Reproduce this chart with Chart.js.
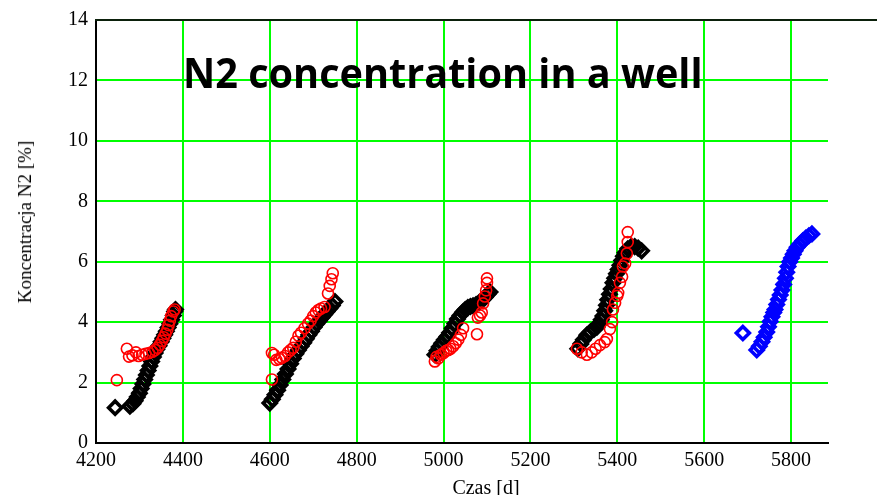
<!DOCTYPE html>
<html>
<head>
<meta charset="utf-8">
<script src="https://cdn.jsdelivr.net/npm/chart.js@4/dist/chart.umd.min.js"></script>
<style>
  body { margin: 0; background: #fff; }
  #wrap { position: relative; width: 877px; height: 495px; }
  #title {
    position: absolute; left: 183px; top: 51px;
    font-family: "Open Sans", sans-serif; font-weight: 700; font-size: 42px;
    line-height: 1; white-space: nowrap; color: #000; transform-origin: 0 0;
  }
  #ylab {
    position: absolute; left: 25px; top: 222px;
    font-family: "Liberation Serif", serif; font-size: 19px;
    white-space: nowrap; transform: translate(-50%, -50%) rotate(-90deg);
  }
  #xlab {
    position: absolute; left: 486px; top: 487px;
    font-family: "Liberation Serif", serif; font-size: 20px; white-space: nowrap;
    transform: translate(-50%, -50%);
  }
</style>
</head>
<body>
<div id="wrap">
  <canvas id="chartCanvas" width="877" height="495"></canvas>
  <div id="title">N2 concentration in a well</div>
  <div id="ylab">Koncentracja N2 [%]</div>
  <div id="xlab">Czas [d]</div>
</div>
<script>
// tick labels
const xTicks = [4200, 4400, 4600, 4800, 5000, 5200, 5400, 5600, 5800];
const yTicks = [0, 2, 4, 6, 8, 10, 12, 14];

// model (black diamonds) - four periods
const modelDays = [
    4244, 4278, 4285, 4290, 4295, 4300, 4304, 4308, 4312, 4316, 4320, 4324, 4328, 4332, 4336,
    4340, 4345, 4350, 4354, 4358, 4362, 4366, 4370, 4374, 4378, 4381, 4383,
    4600, 4606, 4612, 4618, 4624, 4630, 4636, 4642, 4648, 4654, 4660, 4666, 4672, 4678, 4684,
    4690, 4696, 4702, 4708, 4714, 4720, 4726, 4732, 4738, 4744, 4750,
    4980, 4985, 4990, 4996, 5002, 5008, 5014, 5020, 5026, 5032, 5038, 5044, 5050, 5056, 5062,
    5068, 5075, 5082, 5090, 5096, 5102, 5107,
    5309, 5316, 5322, 5330, 5338, 5346, 5353, 5358, 5363, 5367, 5371, 5375, 5378, 5382, 5386,
    5390, 5394, 5398, 5402, 5406, 5410, 5414, 5418, 5424, 5432, 5440, 5448, 5456
];
const modelN2 = [
    1.17, 1.22, 1.30, 1.40, 1.52, 1.65, 1.80, 1.95, 2.10, 2.25, 2.40, 2.55, 2.70, 2.85, 2.98,
    3.10, 3.22, 3.35, 3.47, 3.58, 3.70, 3.82, 3.95, 4.08, 4.22, 4.35, 4.42,
    1.32, 1.45, 1.60, 1.75, 1.92, 2.10, 2.28, 2.45, 2.62, 2.80, 2.95, 3.08, 3.20, 3.32, 3.45,
    3.58, 3.70, 3.83, 3.95, 4.05, 4.15, 4.25, 4.35, 4.45, 4.55, 4.68,
    2.92, 3.05, 3.18, 3.30, 3.42, 3.52, 3.65, 3.80, 3.95, 4.10, 4.22, 4.33, 4.42, 4.48, 4.52,
    4.54, 4.58, 4.65, 4.74, 4.82, 4.92, 5.00,
    3.12, 3.28, 3.42, 3.57, 3.68, 3.76, 3.83, 3.95, 4.08, 4.20, 4.38, 4.56, 4.74, 4.92, 5.10,
    5.30, 5.45, 5.60, 5.74, 5.88, 6.04, 6.18, 6.30, 6.43, 6.50, 6.50, 6.45, 6.36
];

// measurements (red circles)
const measDays = [
    4248, 4271, 4276, 4284, 4292, 4298, 4306, 4314, 4322, 4330, 4336, 4342, 4347, 4352, 4356,
    4360, 4364, 4367, 4370, 4373, 4378, 4381,
    4605, 4605, 4610, 4615, 4622, 4628, 4635, 4642, 4648, 4654, 4660, 4666, 4672, 4680, 4688,
    4694, 4700, 4706, 4712, 4718, 4726, 4734, 4738, 4742, 4745,
    4980, 4984, 4988, 4994, 5000, 5006, 5011, 5016, 5022, 5028, 5034, 5040, 5045, 5077, 5079,
    5084, 5088, 5091, 5095, 5098, 5100, 5100,
    5307, 5318, 5330, 5341, 5350, 5360, 5371, 5376, 5383, 5388, 5390, 5395, 5400, 5402, 5406,
    5411, 5413, 5418, 5422, 5424, 5424
];
const measN2 = [
    2.08, 3.12, 2.86, 2.90, 3.00, 2.88, 2.92, 2.95, 2.98, 3.02, 3.08, 3.15, 3.25, 3.38, 3.50,
    3.62, 3.75, 3.90, 4.05, 4.20, 4.35, 4.42,
    2.10, 2.98, 2.92, 2.75, 2.78, 2.82, 2.88, 3.00, 3.08, 3.15, 3.35, 3.55, 3.65, 3.80, 3.95,
    4.05, 4.20, 4.32, 4.40, 4.45, 4.50, 4.95, 5.20, 5.42, 5.62,
    2.70, 2.85, 2.80, 2.92, 2.98, 3.05, 3.08, 3.12, 3.20, 3.30, 3.42, 3.58, 3.80, 3.60, 4.15,
    4.22, 4.32, 4.62, 4.85, 5.05, 5.30, 5.45,
    3.12, 3.00, 2.92, 3.00, 3.12, 3.24, 3.34, 3.44, 3.77, 4.00, 4.42, 4.64, 4.87, 4.97, 5.30,
    5.50, 5.84, 5.94, 6.27, 6.65, 6.98
];

// forecast (blue diamonds)
const forecastDays = [
    5689, 5721, 5727, 5733, 5738, 5744, 5748, 5752, 5756, 5760, 5763, 5767, 5771, 5775, 5779,
    5783, 5787, 5790, 5793, 5797, 5801, 5805, 5809, 5814, 5820, 5827, 5834, 5841, 5848
];
const forecastN2 = [
    3.64, 3.08, 3.20, 3.35, 3.50, 3.67, 3.85, 4.02, 4.18, 4.32, 4.42, 4.58, 4.75, 4.90, 5.06,
    5.25, 5.45, 5.65, 5.84, 6.00, 6.12, 6.25, 6.36, 6.48, 6.58, 6.69, 6.78, 6.86, 6.92
];

function toPoints(xs, ys) {
    return xs.map((x, i) => ({ x: x, y: ys[i] }));
}

// top frame line runs past the plot to the page edge
const topFrame = {
    id: "topFrame",
    afterDraw(chart) {
        const ctx = chart.ctx;
        const a = chart.chartArea;
        ctx.save();
        ctx.strokeStyle = "#0b200b";
        ctx.lineWidth = 2;
        ctx.beginPath();
        ctx.moveTo(a.left - 1, a.top);
        ctx.lineTo(chart.width, a.top);
        ctx.stroke();
        ctx.restore();
    }
};

const serif = { family: "'Liberation Serif', serif", size: 20 };

new Chart(document.getElementById("chartCanvas"), {
    type: "scatter",
    data: {
        datasets: [
            {
                data: toPoints(measDays, measN2),
                pointStyle: "circle",
                pointRadius: 5.5,
                borderColor: "#ff0000",
                backgroundColor: "rgba(0,0,0,0)",
                borderWidth: 1.6
            },
            {
                data: toPoints(modelDays, modelN2),
                pointStyle: "rectRot",
                pointRadius: 6.5,
                borderColor: "#000000",
                backgroundColor: "rgba(0,0,0,0)",
                borderWidth: 3.6
            },
            {
                data: toPoints(forecastDays, forecastN2),
                pointStyle: "rectRot",
                pointRadius: 6.5,
                borderColor: "#0000ff",
                backgroundColor: "rgba(0,0,0,0)",
                borderWidth: 3.6
            }
        ]
    },
    options: {
        responsive: false,
        animation: false,
        layout: { padding: { top: 12, right: 49, left: 0, bottom: 0 } },
        plugins: {
            legend: { display: false },
            tooltip: { enabled: false }
        },
        scales: {
            x: {
                type: "linear",
                min: 4200,
                max: 5885,
                afterBuildTicks: s => { s.ticks = xTicks.map(v => ({ value: v })); },
                afterFit: s => { s.height = 52; },
                grid: { color: "#00ff00", lineWidth: 2, drawTicks: false },
                border: { color: "#000000", width: 2 },
                ticks: { color: "#000", font: serif, padding: 6, callback: v => String(v) }
            },
            y: {
                min: 0,
                max: 14,
                afterBuildTicks: s => { s.ticks = yTicks.map(v => ({ value: v })); },
                afterFit: s => { s.width = 96; },
                grid: { color: "#00ff00", lineWidth: 2, drawTicks: false },
                border: { color: "#000000", width: 2 },
                ticks: { color: "#000", font: serif, padding: 8, callback: v => String(v) }
            }
        }
    },
    plugins: [topFrame]
});

// fit the bold title to the width it has in the picture
const t = document.getElementById("title");
t.style.transform = "scaleX(" + (520 / t.offsetWidth) + ")";
</script>
</body>
</html>
